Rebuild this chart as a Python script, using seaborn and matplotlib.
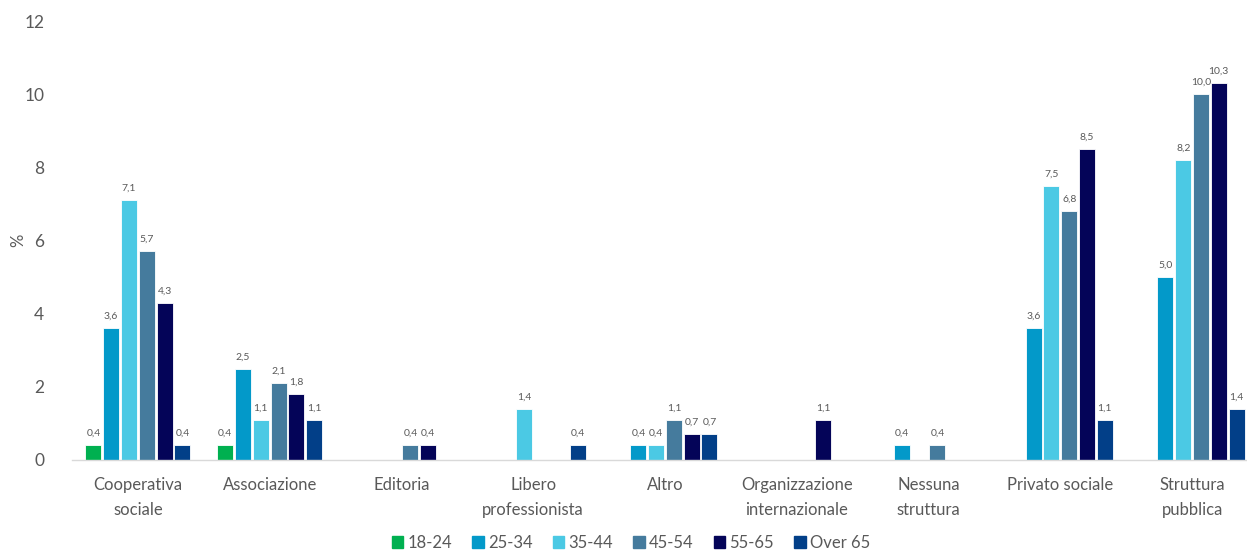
import matplotlib
matplotlib.use("Agg")
import matplotlib.pyplot as plt
import pandas as pd
import seaborn as sns

categories = ["Cooperativa\nsociale", "Associazione", "Editoria", "Libero\nprofessionista",
              "Altro", "Organizzazione\ninternazionale", "Nessuna\nstruttura",
              "Privato sociale", "Struttura\npubblica"]
age_groups = ["18-24", "25-34", "35-44", "45-54", "55-65", "Over 65"]

v_18_24 = [0.4, 0.4, 0, 0, 0, 0, 0, 0, 0]
v_25_34 = [3.6, 2.5, 0, 0, 0.4, 0, 0.4, 3.6, 5.0]
v_35_44 = [7.1, 1.1, 0, 1.4, 0.4, 0, 0, 7.5, 8.2]
v_45_54 = [5.7, 2.1, 0.4, 0, 1.1, 0, 0.4, 6.8, 10.0]
v_55_65 = [4.3, 1.8, 0.4, 0, 0.7, 1.1, 0, 8.5, 10.3]
v_over65 = [0.4, 1.1, 0, 0.4, 0.7, 0, 0, 1.1, 1.4]

colors = ["#00B050", "#0399C9", "#4BC9E4", "#457B9D", "#040458", "#023F88"]
TEXT = "#595959"

series = [v_18_24, v_25_34, v_35_44, v_45_54, v_55_65, v_over65]
rows = []
for grp, vals in zip(age_groups, series):
    for cat, v in zip(categories, vals):
        rows.append({"categoria": cat, "eta": grp, "valore": v})
df = pd.DataFrame(rows)

sns.set_style("white")
plt.rcParams["font.family"] = ["Lato", "DejaVu Sans"]

fig = plt.figure(figsize=(12.47, 5.52), dpi=100)
ax = fig.add_axes([72 / 1247, 92 / 552, 1186 / 1247, 439 / 552])

sns.barplot(data=df, x="categoria", y="valore", hue="eta", order=categories,
            hue_order=age_groups, palette=colors, saturation=1, width=0.81, gap=0.1,
            edgecolor="white", linewidth=0.6, ax=ax)

for patch in ax.patches:
    h = patch.get_height()
    if h > 0 and patch.get_width() > 0:
        ax.text(patch.get_x() + patch.get_width() / 2, h + 0.2,
                f"{h:.1f}".replace(".", ","), ha="center", va="bottom",
                fontsize=7.5, color=TEXT)

ax.set_ylim(0, 12)
ax.set_xlim(-0.5, len(categories) - 0.5)
ax.set_yticks(range(0, 13, 2))
ax.set_xlabel("")
ax.set_ylabel("")
fig.text(18 / 1247, 1 - 240 / 552, "%", rotation=90, ha="center", va="center",
         color=TEXT, fontsize=12)
ax.tick_params(axis="y", length=0, labelsize=12.5, labelcolor=TEXT, pad=20)
ax.tick_params(axis="x", length=0, labelsize=12, labelcolor=TEXT, pad=12)
for lbl in ax.get_xticklabels():
    lbl.set_linespacing(1.7)
for side in ["left", "right", "top"]:
    ax.spines[side].set_visible(False)
ax.spines["bottom"].set_color("#D9D9D9")
ax.spines["bottom"].set_linewidth(1)

ax.legend_.remove()
handles = [plt.Rectangle((0, 0), 1, 1, color=c) for c in colors]
fig.legend(handles, age_groups, loc="lower center", bbox_to_anchor=(0.506, -0.025),
           ncol=6, frameon=False, fontsize=12, labelcolor=TEXT,
           handlelength=0.7, handleheight=0.7, handletextpad=0.25, columnspacing=1.2)

fig.savefig("out.png", dpi=100)
